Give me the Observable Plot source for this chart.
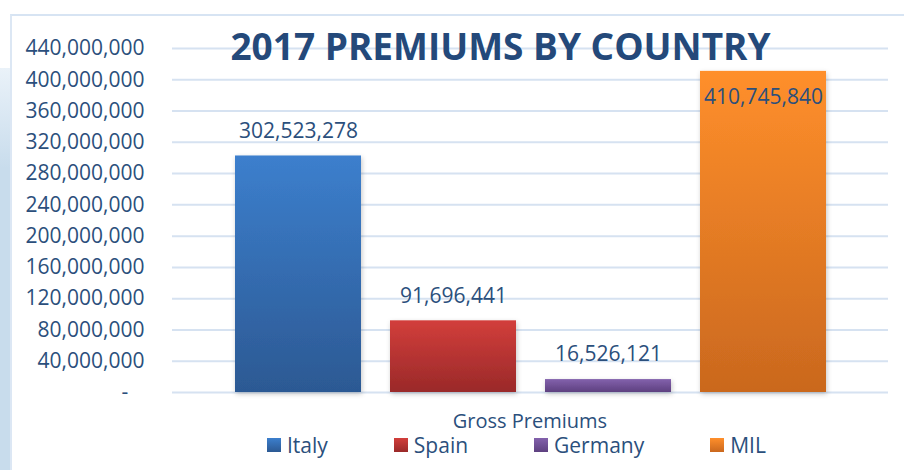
<!DOCTYPE html>
<html>
<head>
<meta charset="utf-8">
<script src="https://cdn.jsdelivr.net/npm/d3@7"></script>
<script src="https://cdn.jsdelivr.net/npm/@observablehq/plot@0.6"></script>
<style>
  html, body { margin: 0; padding: 0; background: #fff; }
  #wrap { position: relative; width: 904px; height: 470px; overflow: hidden; font-family: "Open Sans", sans-serif; }
  #frame { position: absolute; left: 10px; top: 14px; right: -4px; bottom: -4px; border-top: 2px solid #D7E4F3; border-left: 2px solid #DCE7F4; }
  #band { position: absolute; left: 0; top: 68px; width: 10px; bottom: 0; background: linear-gradient(#EAF2F9, #C8DCEC 25%, #C8DCEC); }
  #chart { position: absolute; left: 0; top: 0; }
  #legtitle { position: absolute; left: 0; width: 1060px; top: 411px; text-align: center; font-size: 20px; color: #2B4F7C; line-height: 20px; }
  #legend { position: absolute; left: 267px; top: 435px; display: flex; gap: 66px; font-size: 21px; color: #2B4F7C; line-height: 20px; }
  .item { display: flex; align-items: center; }
  .sw { width: 14px; height: 14px; margin-right: 6px; }
</style>
</head>
<body>
<div id="wrap">
  <div id="band"></div>
  <div id="frame"></div>
  <div id="chart"></div>
  <div id="legtitle"></div>
  <div id="legend"></div>
</div>
<script>
const title = "2017 PREMIUMS BY COUNTRY";
const seriesName = "Gross Premiums";
const countries = ["Italy", "Spain", "Germany", "MIL"];
const premiums = [302523278, 91696441, 16526121, 410745840];
const topColors = ["#3C7FCD", "#D23E3B", "#8361AC", "#FF8F2B"];
const bottomColors = ["#2C5993", "#9A2929", "#5E4180", "#CA681E"];
const yTicks = [0, 40e6, 80e6, 120e6, 160e6, 200e6, 240e6, 280e6, 320e6, 360e6, 400e6, 440e6];

const data = countries.map((c, i) => ({country: c, value: premiums[i], idx: i}));
const fmt = d3.format(",");
const textColor = "#2B4F7C";

const plot = Plot.plot({
  width: 904,
  height: 405,
  marginLeft: 172,
  marginRight: 16,
  marginTop: 48,
  marginBottom: 13,
  style: {fontFamily: "Open Sans, sans-serif", fontSize: "21px", color: textColor, background: "transparent", overflow: "visible"},
  x: {domain: countries, paddingInner: 0.19, paddingOuter: 0.4, axis: null},
  y: {domain: [0, 440e6], ticks: yTicks, label: null},
  marks: [
    Plot.gridY(yTicks, {stroke: "#D6E2F1", strokeOpacity: 1, strokeWidth: 2}),
    Plot.axisY(yTicks, {tickSize: 0, tickPadding: 28, fill: textColor, fontSize: 21, label: null,
      tickFormat: d => d === 0 ? "-\u00a0\u00a0\u00a0" : fmt(d)}),
    Plot.barY(data, {x: "country", y: "value", fill: d => `url(#grad${d.idx})`, className: "bars"}),
    Plot.text(data, {x: "country", y: "value", text: d => fmt(d.value), fill: textColor, fontSize: 21,
      lineAnchor: "middle", className: "vlabels"}),
    Plot.text([title], {frameAnchor: "top", dx: -30, dy: 0, lineAnchor: "middle", fontSize: 37, fontWeight: "bold", fill: "#24497A"})
  ]
});

// gradients
const svg = d3.select(plot);
const defs = svg.insert("defs", ":first-child");
const dropF = defs.append("filter").attr("id", "shadow").attr("x", "-10%").attr("y", "-10%").attr("width", "130%").attr("height", "130%");
dropF.append("feDropShadow").attr("dx", 1).attr("dy", 2).attr("stdDeviation", 2.5).attr("flood-color", "#000").attr("flood-opacity", 0.22);
countries.forEach((c, i) => {
  const g = defs.append("linearGradient").attr("id", "grad" + i).attr("x1", 0).attr("y1", 0).attr("x2", 0).attr("y2", 1);
  g.append("stop").attr("offset", "0%").attr("stop-color", topColors[i]);
  g.append("stop").attr("offset", "100%").attr("stop-color", bottomColors[i]);
});
svg.selectAll("g.bars").attr("filter", "url(#shadow)");

// value labels: outside above bar, or inside top when bar nearly fills the plot
svg.selectAll("g.vlabels text").each(function(_, j) {
  const v = premiums[j];
  d3.select(this).attr("dy", v > 400e6 ? 26 : -25);
});

document.getElementById("chart").appendChild(plot);
document.getElementById("legtitle").textContent = seriesName;
const leg = document.getElementById("legend");
countries.forEach((c, i) => {
  const it = document.createElement("div");
  it.className = "item";
  it.innerHTML = `<span class="sw" style="background:linear-gradient(${topColors[i]}, ${bottomColors[i]})"></span><span>${c}</span>`;
  leg.appendChild(it);
});
</script>
</body>
</html>
